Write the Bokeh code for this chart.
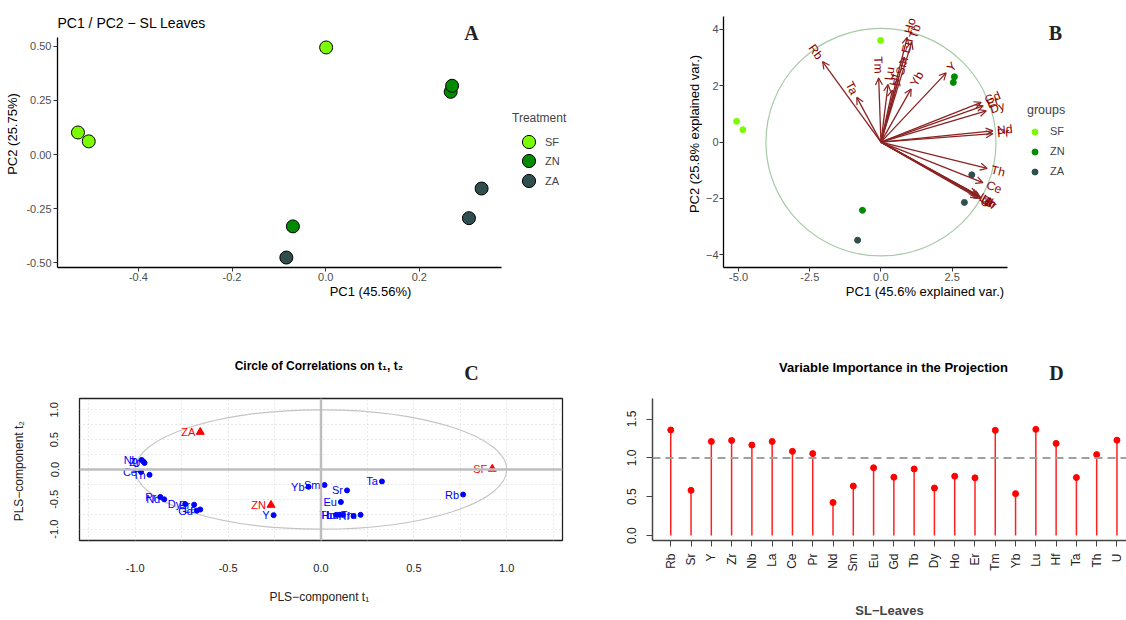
import numpy as np
from bokeh.plotting import figure
from bokeh.models import (Range1d, FixedTicker, Legend, LegendItem, Label, Span,
                          Arrow, OpenHead, ColumnDataSource, NumeralTickFormatter)
from bokeh.layouts import row, column
from bokeh.embed import file_html
from bokeh.resources import INLINE
from bokeh.core.properties import value

# ---------------- data ----------------
groups = ["SF", "ZN", "ZA"]
group_colors = ["#7CFC00", "#008B00", "#2F4F4F"]

# Panel A : PCA scores
a_treatment = ["SF", "SF", "SF", "ZN", "ZN", "ZN", "ZA", "ZA", "ZA"]
a_pc1 = [-0.529, -0.506, 0.001, 0.267, 0.270, -0.070, -0.084, 0.333, 0.306]
a_pc2 = [0.102, 0.061, 0.495, 0.290, 0.318, -0.332, -0.476, -0.157, -0.294]
a_xticks = [-0.4, -0.2, 0.0, 0.2]
a_yticks = [-0.5, -0.25, 0.0, 0.25, 0.5]

# Panel B : biplot
b_group = ["SF", "SF", "SF", "ZN", "ZN", "ZN", "ZA", "ZA", "ZA"]
b_pc1 = [-5.07, -4.85, -0.01, 2.58, 2.54, -0.65, -0.82, 3.19, 2.93]
b_pc2 = [0.74, 0.44, 3.61, 2.32, 2.12, -2.42, -3.48, -1.16, -2.14]
elements = ["Rb", "Sr", "Y", "Zr", "Nb", "La", "Ce", "Pr", "Nd", "Sm", "Eu", "Gd",
            "Tb", "Dy", "Ho", "Er", "Tm", "Yb", "Lu", "Hf", "Ta", "Th", "U"]
b_load_pc1 = [-2.05, 3.52, 2.29, 3.48, 3.42, 3.35, 3.58, 3.93, 3.93, 0.62, 0.82, 3.52,
              1.08, 3.70, 0.92, 3.59, -0.08, 1.06, 0.25, 0.40, -0.85, 3.73, 3.40]
b_load_pc2 = [2.86, -2.00, 2.46, -1.95, -1.90, -1.85, -1.44, 0.30, 0.40, 2.25, 3.02, 1.41,
              3.55, 1.11, 3.72, 1.29, 2.28, 1.89, 2.05, 1.85, 1.59, -0.93, -1.98]
b_circle_radius = 4.04
b_xticks = [-5.0, -2.5, 0.0, 2.5]
b_yticks = [-4, -2, 0, 2, 4]

# Panel C : circle of correlations
c_t1 = [0.765, 0.14, -0.255, -0.955, -0.965, -0.65, -0.969, -0.865, -0.844, 0.019, 0.107, -0.668,
        0.082, -0.731, 0.10, -0.683, 0.213, -0.067, 0.117, 0.175, 0.328, -0.923, -0.95]
c_t2 = [-0.42, -0.35, -0.765, 0.13, 0.16, -0.67, -0.04, -0.46, -0.50, -0.26, -0.545, -0.69,
        -0.76, -0.58, -0.76, -0.59, -0.76, -0.29, -0.76, -0.78, -0.20, -0.09, 0.11]
c_group_t1 = [0.922, -0.269, -0.650]
c_group_t2 = [0.01, -0.595, 0.628]
c_ticks = [-1.0, -0.5, 0.0, 0.5, 1.0]
c_grid = [-1.25, -1.0, -0.75, -0.5, -0.25, 0.0, 0.25, 0.5, 0.75, 1.0, 1.25]
c_unit_radius = 1.0

# Panel D : VIP
d_vip = [1.359, 0.582, 1.211, 1.224, 1.165, 1.211, 1.084, 1.055, 0.426, 0.637, 0.873, 0.751,
         0.857, 0.612, 0.764, 0.743, 1.354, 0.540, 1.367, 1.186, 0.747, 1.042, 1.228]
d_threshold = 1.0
d_yticks = [0.0, 0.5, 1.0, 1.5]

FONT = "Liberation Sans"
SERIF = "Liberation Serif"


def extend(lo, hi, px_len, extra_px):
    return hi + (hi - lo) / px_len * extra_px


def make_fig(w, h, xr, yr, borders):
    p = figure(width=w, height=h, x_range=Range1d(*xr), y_range=Range1d(*yr),
               output_backend="svg", toolbar_location=None,
               min_border_left=borders[0], min_border_right=borders[1],
               min_border_top=borders[2], min_border_bottom=borders[3])
    p.xgrid.visible = False
    p.ygrid.visible = False
    p.outline_line_color = None
    p.background_fill_color = "white"
    p.border_fill_color = "white"
    for ax in p.axis:
        ax.minor_tick_line_color = None
        ax.axis_label_text_font = FONT
        ax.major_label_text_font = FONT
        ax.axis_label_text_font_style = "normal"
    return p


def flabel(p, x, y, text, size, style="normal", font=FONT, align="center", color="black"):
    p.add_layout(Label(x=x, y=y, x_units="screen", y_units="screen", text=text,
                       text_font=font, text_font_size=size, text_font_style=style,
                       text_align=align, text_baseline="middle", text_color=color))


def gg_axes(p):
    for ax in p.axis:
        ax.axis_line_color = "black"
        ax.axis_line_width = 1.3
        ax.major_tick_line_color = "#333333"
        ax.major_tick_out = 4
        ax.major_tick_in = 0
        ax.major_label_text_color = "#4D4D4D"
        ax.major_label_text_font_size = "11px"
        ax.axis_label_text_font_size = "13px"
        ax.axis_label_text_color = "black"


def legend_style(**kw):
    base = dict(orientation="vertical", padding=0, margin=0, spacing=0,
                border_line_color=None, background_fill_alpha=0,
                label_text_font=FONT, label_text_font_size="11px",
                title_text_font=FONT, title_text_font_style="normal")
    base.update(kw)
    return base


# ---------------- Panel A ----------------
ax_lo, ax_hi = -0.5727, 0.3759
ay_lo, ay_hi = -0.522, 0.541
pa = make_fig(683, 310, (ax_lo, extend(ax_lo, ax_hi, 443.9, 181.7)),
              (ay_lo, extend(ay_lo, ay_hi, 230, 37)), (57, 0, 0, 43))
gg_axes(pa)
pa.xaxis.bounds = (ax_lo, ax_hi)
pa.yaxis.bounds = (ay_lo, ay_hi)
pa.xaxis.ticker = FixedTicker(ticks=a_xticks)
pa.yaxis.ticker = FixedTicker(ticks=a_yticks)
pa.xaxis.formatter = NumeralTickFormatter(format="0.0")
pa.yaxis.formatter = NumeralTickFormatter(format="0.00")
pa.xaxis.axis_label = "PC1 (45.56%)"
pa.yaxis.axis_label = "PC2 (25.75%)"
pa.xaxis.major_label_standoff = 1
pa.xaxis.axis_label_standoff = 0
pa.yaxis.major_label_standoff = 2
pa.yaxis.axis_label_standoff = 3
items_a = []
for g, col in zip(groups, group_colors):
    idx = [i for i, t in enumerate(a_treatment) if t == g]
    src = ColumnDataSource(dict(x=[a_pc1[i] for i in idx], y=[a_pc2[i] for i in idx]))
    r = pa.scatter("x", "y", source=src, size=13, fill_color=col, line_color="black", line_width=1)
    items_a.append(LegendItem(label=g, renderers=[r]))
# one legend block per key so that the large keys sit at the reference pitch
leg_a_y = [109, 90, 70]
for k, (item, ly_) in enumerate(zip(items_a, leg_a_y)):
    kw = dict(title="Treatment", title_text_font_size="12px", title_standoff=0) if k == 0 else {}
    pa.add_layout(Legend(items=[item], location=(455, ly_),
                         **legend_style(glyph_width=33, glyph_height=33, label_height=19,
                                        label_standoff=0, **kw)))
flabel(pa, 0, 245, "PC1 / PC2 \u2212 SL Leaves", "14px", align="left")
flabel(pa, 414, 235, "A", "20px", style="bold", font=SERIF, color="#222222")

# ---------------- Panel B ----------------
bx_lo, bx_hi = -5.53, 4.43
by_lo, by_hi = -4.45, 4.46
pb = make_fig(443, 310, (bx_lo, extend(bx_lo, bx_hi, 283.4, 119.3)),
              (by_lo, extend(by_lo, by_hi, 250.7, 16)), (40, 0, 0, 43))
gg_axes(pb)
pb.xaxis.bounds = (bx_lo, bx_hi)
pb.yaxis.bounds = (by_lo, by_hi)
pb.xaxis.ticker = FixedTicker(ticks=b_xticks)
pb.yaxis.ticker = FixedTicker(ticks=b_yticks)
pb.xaxis.formatter = NumeralTickFormatter(format="0.0")
pb.xaxis.axis_label = "PC1 (45.6% explained var.)"
pb.yaxis.axis_label = "PC2 (25.8% explained var.)"
pb.xaxis.major_label_standoff = 1
pb.xaxis.axis_label_standoff = 0
pb.yaxis.major_label_standoff = 1
pb.yaxis.axis_label_standoff = 1
pb.ellipse(x=[0], y=[0], width=[2 * b_circle_radius], height=[2 * b_circle_radius],
           fill_color=None, line_color="#A6CAA6", line_width=1.2)
items_b = []
for g, col in zip(groups, group_colors):
    idx = [i for i, t in enumerate(b_group) if t == g]
    src = ColumnDataSource(dict(x=[b_pc1[i] for i in idx], y=[b_pc2[i] for i in idx]))
    r = pb.scatter("x", "y", source=src, size=6, fill_color=col, line_color=col)
    items_b.append(LegendItem(label=g, renderers=[r]))
lx = np.array(b_load_pc1)
ly = np.array(b_load_pc2)
arrow_src = ColumnDataSource(dict(x0=np.zeros_like(lx), y0=np.zeros_like(ly), x1=lx, y1=ly))
pb.add_layout(Arrow(end=OpenHead(size=7, line_color="#8B2323", line_width=1.2),
                    x_start="x0", y_start="y0", x_end="x1", y_end="y1", source=arrow_src,
                    line_color="#8B2323", line_width=1.3))
norm = np.hypot(lx, ly)
ang = np.arctan(ly / lx)
tx = lx + 0.15 * lx / norm
ty = ly + 0.15 * ly / norm
names = np.array(elements)
for mask, align in ((lx >= 0, "left"), (lx < 0, "right")):
    s = ColumnDataSource(dict(x=tx[mask], y=ty[mask], t=names[mask], a=ang[mask]))
    pb.text("x", "y", text="t", angle="a", source=s, text_align=align, text_baseline="middle",
            text_font=value(FONT), text_font_size="12px", text_color="#8B0000")
pb.add_layout(Legend(items=items_b, title="groups", location=(304, 86),
                     **legend_style(glyph_width=15, glyph_height=15, label_height=20,
                                    label_standoff=8, title_standoff=4,
                                    title_text_font_size="12.5px")))
flabel(pb, 332, 235, "B", "20px", style="bold", font=SERIF, color="#222222")

# ---------------- title strip for C / D ----------------
strip = figure(width=1126, height=75, x_range=Range1d(0, 1), y_range=Range1d(0, 1),
               x_axis_type=None, y_axis_type=None, output_backend="svg", toolbar_location=None,
               min_border=0)
strip.outline_line_color = None
strip.xgrid.visible = False
strip.ygrid.visible = False
flabel(strip, 320, 20, "Circle of Correlations on  t\u2081, t\u2082", "12px", style="bold")
flabel(strip, 471, 13, "C", "20px", style="bold", font=SERIF, color="#222222")
flabel(strip, 893, 18, "Variable Importance in the Projection", "13px", style="bold")
flabel(strip, 1056, 13, "D", "20px", style="bold", font=SERIF, color="#222222")

# ---------------- Panel C ----------------
pc = make_fig(590, 235, (-1.30, 1.30), (-1.19, 1.19), (79, 28, 13, 78))
pc.outline_line_color = "#222222"
pc.outline_line_width = 1.3
pc.xgrid.visible = True
pc.ygrid.visible = True
pc.xgrid.ticker = FixedTicker(ticks=c_grid)
pc.ygrid.ticker = FixedTicker(ticks=c_grid)
for gr in (pc.xgrid, pc.ygrid):
    gr.grid_line_color = "#D3D3D3"
    gr.grid_line_dash = "1 3"
    gr.grid_line_width = 1
pc.xaxis.ticker = FixedTicker(ticks=c_ticks)
pc.yaxis.ticker = FixedTicker(ticks=c_ticks)
pc.xaxis.formatter = NumeralTickFormatter(format="0.0")
pc.yaxis.formatter = NumeralTickFormatter(format="0.0")
for ax in pc.axis:
    ax.axis_line_color = None
    ax.major_tick_line_color = None
    ax.major_label_text_font_size = "11px"
    ax.major_label_text_color = "#222222"
    ax.axis_label_text_font_size = "12px"
    ax.axis_label_text_color = "#222222"
pc.yaxis.major_label_orientation = "parallel"
pc.xaxis.major_label_standoff = 17
pc.yaxis.major_label_standoff = 15
pc.xaxis.axis_label_standoff = 15
pc.yaxis.axis_label_standoff = 22
pc.xaxis.axis_label = "PLS\u2212component  t\u2081"
pc.yaxis.axis_label = "PLS\u2212component  t\u2082"
pc.add_layout(Span(location=0, dimension="height", line_color="#BEBEBE", line_width=2.5))
pc.add_layout(Span(location=0, dimension="width", line_color="#BEBEBE", line_width=2.5))
pc.ellipse(x=[0], y=[0], width=[2 * c_unit_radius], height=[2 * c_unit_radius],
           fill_color=None, line_color="#C4C4C4", line_width=1.1)
src_c = ColumnDataSource(dict(x=c_t1, y=c_t2, t=elements))
pc.scatter("x", "y", source=src_c, size=5, color="#0000FF")
pc.text("x", "y", text="t", source=src_c, text_align="right", text_baseline="middle", x_offset=-4,
        text_font=value(FONT), text_font_size="11px", text_color="#0000FF")
src_cg = ColumnDataSource(dict(x=c_group_t1, y=c_group_t2, t=groups))
pc.scatter("x", "y", source=src_cg, marker="triangle", size=8, color="#FF0000")
pc.text("x", "y", text="t", source=src_cg, text_align="right", text_baseline="middle", x_offset=-5,
        text_font=value(FONT), text_font_size="11px", text_color="#FF0000")

# ---------------- Panel D ----------------
xpos = list(range(1, len(elements) + 1))
pd_ = make_fig(536, 235, (0.10, 23.47), (-0.063, 1.764), (62, 0, 13, 77))
pd_.xaxis.ticker = FixedTicker(ticks=xpos)
pd_.xaxis.major_label_overrides = {x: e for x, e in zip(xpos, elements)}
pd_.yaxis.ticker = FixedTicker(ticks=d_yticks)
pd_.yaxis.formatter = NumeralTickFormatter(format="0.0")
for ax in pd_.axis:
    ax.axis_line_color = "#444444"
    ax.axis_line_width = 1.5
    ax.major_tick_line_color = "#444444"
    ax.major_tick_out = 6
    ax.major_tick_in = 0
    ax.major_label_text_font_size = "12px"
    ax.major_label_text_color = "#222222"
pd_.xaxis.major_label_orientation = np.pi / 2
pd_.yaxis.major_label_orientation = "parallel"
pd_.xaxis.major_label_standoff = 7
pd_.yaxis.major_label_standoff = 10
pd_.xaxis.axis_label = "SL\u2212Leaves"
pd_.xaxis.axis_label_text_font_style = "bold"
pd_.xaxis.axis_label_text_font_size = "13px"
pd_.xaxis.axis_label_standoff = 28
src_d = ColumnDataSource(dict(x=xpos, y=d_vip, z=[0.0] * len(xpos)))
pd_.add_layout(Span(location=d_threshold, dimension="width", line_color="#A0A0A0",
                    line_width=2, line_dash="8 5"))
pd_.segment(x0="x", y0="z", x1="x", y1="y", source=src_d, line_color="#FF2020", line_width=1.5)
pd_.scatter("x", "y", source=src_d, size=6, color="#FF0000")

layout = column(row(pa, pb), strip, row(pc, pd_))
open("out.html", "w").write(file_html(layout, INLINE))
